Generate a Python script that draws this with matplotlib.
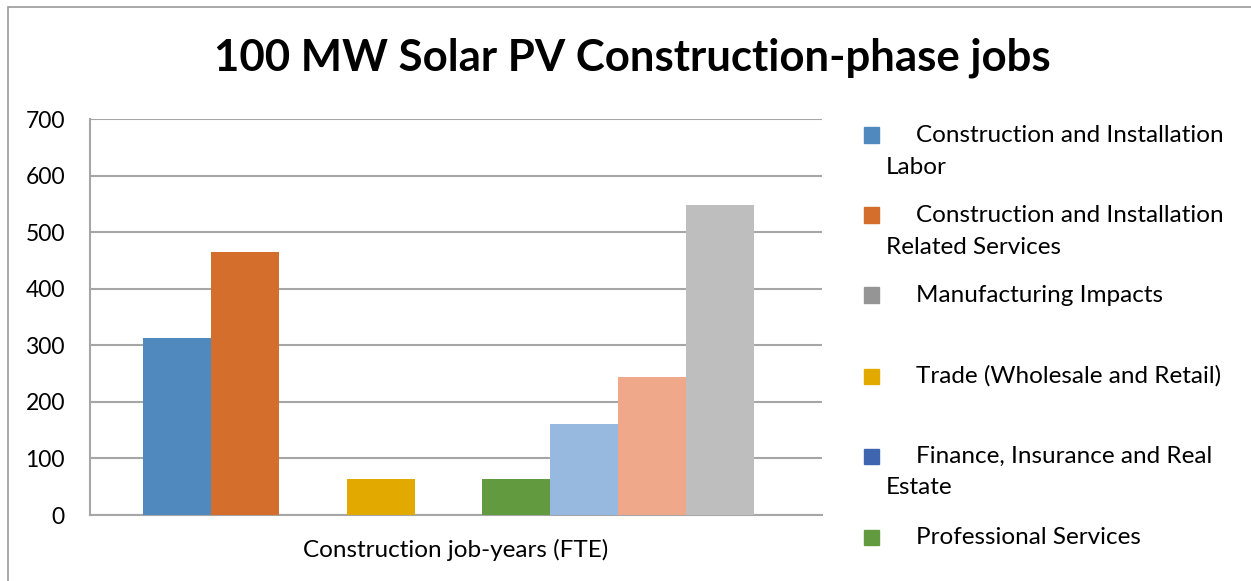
import matplotlib
matplotlib.use('Agg')
import matplotlib.pyplot as plt
from matplotlib.patches import Rectangle

plt.rcParams['font.family'] = ['Lato', 'DejaVu Sans']

TITLE = '100 MW Solar PV Construction-phase jobs'
CATEGORY = 'Construction job-years (FTE)'

SERIES = [
    'Construction and Installation Labor',
    'Construction and Installation Related Services',
    'Manufacturing Impacts',
    'Trade (Wholesale and Retail)',
    'Finance, Insurance and Real Estate',
    'Professional Services',
    'Other Services',
    'Other Sectors',
    'Induced Impacts',
]
VALUES = [313, 465, 0, 64, 0, 64, 161, 244, 548]
COLORS = ['#4F89BD', '#D46E2C', '#959595', '#E2AA00', '#3F65B1',
          '#629A3F', '#98B9DF', '#F0A88A', '#BEBEBE']

# the legend only has room for the first six series, wrapped like this
LEGEND_LINES = [
    ('Construction and Installation', 'Labor'),
    ('Construction and Installation', 'Related Services'),
    ('Manufacturing Impacts', None),
    ('Trade (Wholesale and Retail)', None),
    ('Finance, Insurance and Real', 'Estate'),
    ('Professional Services', None),
]

W, H = 1251, 581
GRID = '#A6A6A6'
FS = 17.5

fig = plt.figure(figsize=(W / 100, H / 100), dpi=100)

# chart frame
fig.patches.append(Rectangle((8 / W, -0.1), 1.2, (H - 7) / H + 0.1,
                             transform=fig.transFigure, fill=False,
                             edgecolor='#9A9A9A', lw=1.2))

ax = fig.add_axes([90 / W, (H - 515) / H, (822 - 90) / W, (515 - 119) / H])
for i, (v, c) in enumerate(zip(VALUES, COLORS)):
    ax.bar(i, v, width=1.0, color=c, zorder=3)

ax.set_xlim(-1.28, 9.5)
ax.set_ylim(0, 700)
ax.set_yticks(range(0, 701, 100))
ax.yaxis.grid(True, color=GRID, lw=1.5, zorder=0)
ax.set_xticks([sum(ax.get_xlim()) / 2])
ax.set_xticklabels([CATEGORY])
ax.tick_params(axis='both', length=0, labelsize=16.5, colors='black')
ax.tick_params(axis='x', labelsize=FS, pad=17)
ax.tick_params(axis='y', pad=18)
for s in ('top', 'right'):
    ax.spines[s].set_visible(False)
for s in ('left', 'bottom'):
    ax.spines[s].set_color(GRID)
    ax.spines[s].set_linewidth(1.5)

fig.text(632 / W, 1 - 58 / H, TITLE, ha='center', va='center',
         fontsize=31.5, fontweight='bold')

# hand-drawn legend
row_y = [135, 215, 295, 376, 456, 537]
for (first, second), y, c in zip(LEGEND_LINES, row_y, COLORS):
    fig.patches.append(Rectangle((864 / W, 1 - (y + 7.5) / H), 15 / W, 15 / H,
                                 transform=fig.transFigure, color=c))
    fig.text(916 / W, 1 - y / H, first, ha='left', va='center', fontsize=FS)
    if second:
        fig.text(886 / W, 1 - (y + 32) / H, second, ha='left', va='center',
                 fontsize=FS)

fig.savefig('out.png', dpi=100)
